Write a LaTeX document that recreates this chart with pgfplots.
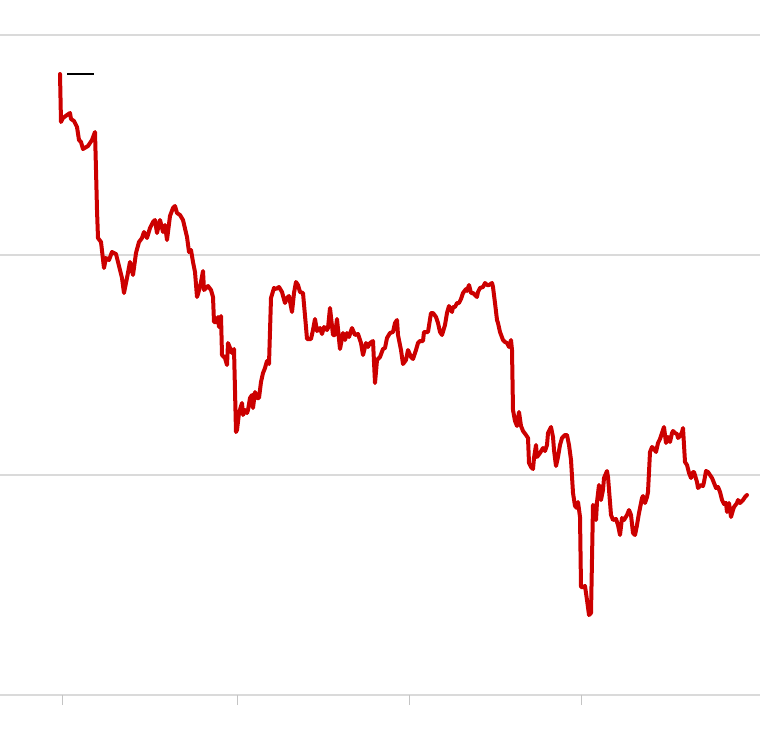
\documentclass[border=0pt]{standalone}
\usepackage{pgfplots}
\pgfplotsset{compat=1.18}
\definecolor{linered}{HTML}{CC0000}
\definecolor{gridgrey}{HTML}{DADADA}
\definecolor{tickgrey}{HTML}{C4C4C4}
\begin{document}
\begin{tikzpicture}
\useasboundingbox (0,-28.5pt) rectangle (380pt,347.5pt);
\begin{axis}[
  at={(0,0)}, anchor=south west,
  scale only axis, width=380pt, height=347.5pt,
  xmin=0, xmax=760, ymin=0, ymax=695,
  axis line style={draw=none},
  xtick={62,237,409,581}, xticklabels={},
  xtick pos=bottom, tick align=outside,
  major tick length=5pt,
  xtick style={draw=tickgrey, line width=0.5pt},
  ytick={0,220,440,660}, yticklabels={},
  ytick style={draw=none},
  ymajorgrids, grid style={draw=gridgrey, line width=1pt},
  clip=false,
]
\addplot[black, line width=1pt] coordinates {(67,621)(94,621)};
\addplot[linered, line width=2pt, line join=round, line cap=round] coordinates {
(60,621)(61,573)(63,577)(67,580)(70,582)(71,576)(74,574)(77,568)(79,555)(81,553)
(83,546)(88,549)(92,555)(95,563)(96,525)(97,485)(98,457)(101,453)(104,427)(106,437)
(109,435)(112,443)(116,441)(119,429)(122,417)(124,402)(127,417)(130,433)(133,420)(136,442)
(139,453)(142,457)(144,463)(147,457)(150,467)(153,473)(155,475)(157,462)(160,475)(163,463)
(165,470)(167,455)(170,479)(173,487)(175,489)(177,482)(180,480)(183,475)(187,458)(189,443)
(191,445)(193,433)(195,423)(197,398)(198,401)(201,413)(203,424)(204,405)(207,408)(208,409)
(211,405)(213,398)(214,373)(217,373)(218,378)(219,368)(221,379)(222,340)(225,337)(227,330)
(228,352)(230,347)(232,342)(234,346)(236,263)(237,265)(239,282)(242,292)(243,280)(245,285)
(247,282)(248,285)(250,297)(252,300)(253,287)(255,303)(257,297)(259,297)(261,313)(263,322)
(265,327)(267,334)(269,331)(271,397)(274,407)(276,406)(279,408)(282,403)(285,392)(287,397)
(289,399)(292,383)(294,402)(296,413)(298,410)(300,403)(303,402)(306,368)(307,356)(311,356)
(313,365)(315,376)(317,364)(320,367)(322,361)(324,368)(327,365)(328,367)(330,387)(333,360)
(335,360)(337,376)(340,346)(343,362)(345,355)(347,362)(349,358)(352,367)(355,360)(358,361)
(361,352)(363,340)(366,352)(368,348)(370,352)(373,354)(375,312)(377,335)(380,338)(383,346)
(385,347)(387,357)(390,362)(393,363)(395,372)(397,375)(398,360)(401,345)(403,331)(406,335)
(408,345)(411,338)(413,336)(416,345)(418,352)(420,354)(423,354)(424,363)(428,363)(431,382)
(433,382)(436,378)(438,372)(440,363)(442,360)(445,370)(447,382)(449,389)(452,383)(453,388)
(455,388)(457,392)(459,392)(461,396)(463,402)(466,406)(467,404)(469,410)(471,402)(473,402)
(475,400)(477,398)(478,403)(480,407)(483,408)(485,412)(487,410)(489,410)(492,412)(493,408)
(495,392)(497,375)(498,372)(500,363)(503,355)(505,353)(507,352)(509,348)(511,355)(512,345)
(513,285)(515,274)(517,269)(519,283)(521,269)(523,264)(526,260)(528,257)(529,232)(531,228)
(533,226)(534,237)(536,250)(537,238)(540,242)(543,247)(545,244)(547,250)(548,262)(551,268)
(553,258)(554,245)(556,229)(558,238)(560,250)(562,257)(565,260)(567,260)(569,250)(571,235)
(573,202)(575,189)(577,187)(578,193)(580,178)(581,108)(583,108)(585,109)(587,95)(589,80)
(591,82)(593,190)(595,188)(596,175)(597,193)(599,210)(601,195)(603,205)(604,217)(607,224)
(608,218)(611,180)(613,175)(616,176)(618,170)(620,160)(622,177)(624,175)(627,180)(629,185)
(631,180)(633,162)(635,160)(637,170)(639,182)(642,197)(643,199)(645,192)(647,198)(648,203)
(650,243)(652,248)(654,246)(656,243)(658,252)(660,256)(662,262)(664,268)(666,252)(668,258)
(670,253)(672,262)(673,264)(675,262)(677,261)(678,257)(680,259)(682,263)(683,267)(685,233)
(687,230)(689,222)(691,217)(693,223)(694,223)(697,213)(698,207)(701,210)(703,209)(704,213)
(706,224)(708,223)(710,220)(712,217)(714,212)(716,207)(718,208)(720,203)(722,195)(724,191)
(726,192)(727,183)(729,192)(731,178)(733,185)(734,188)(737,192)(738,195)(740,192)(743,195)
(745,198)(747,200)
};
\end{axis}
\end{tikzpicture}
\end{document}
